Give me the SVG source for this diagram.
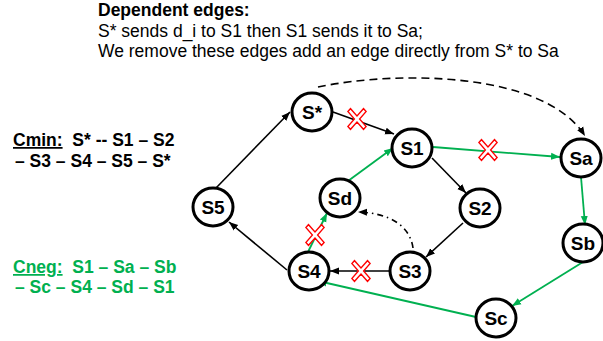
<svg xmlns="http://www.w3.org/2000/svg" width="603" height="341" viewBox="0 0 603 341">
<style>
.t{font-family:"Liberation Sans",Arial,sans-serif;font-size:17.5px;fill:#000}
.b{font-weight:bold}
.g{fill:#00B050}
.node ellipse{fill:#fff;stroke:#000;stroke-width:3}
.node text{font-family:"Liberation Sans",Arial,sans-serif;font-size:19px;font-weight:bold;text-anchor:middle;fill:#000}
.e{fill:none;stroke:#000;stroke-width:1.6}
.eg{fill:none;stroke:#00B050;stroke-width:1.8}
.x{fill:#fff;stroke:#FF0000;stroke-width:1.4}
</style>
<defs>
<marker id="ab" markerWidth="10" markerHeight="10" refX="9" refY="5" orient="auto" markerUnits="userSpaceOnUse"><path d="M0,1.5 L9,5 L0,8.5 Z" fill="#000"/></marker>
<marker id="ag" markerWidth="10" markerHeight="10" refX="9" refY="5" orient="auto" markerUnits="userSpaceOnUse"><path d="M0,1.5 L9,5 L0,8.5 Z" fill="#00B050"/></marker>
<polygon id="cross" class="x" points="-2,-12 2,-12 2,-2 12,-2 12,2 2,2 2,12 -2,12 -2,2 -12,2 -12,-2 -2,-2" transform="scale(0.92,1.05) rotate(45)"/>
</defs>

<g id="texts">
<text class="t b" x="98" y="16">Dependent edges:</text>
<text class="t" x="98" y="36.5">S* sends d_i to S1 then S1 sends it to Sa;</text>
<text class="t" x="98" y="56.5">We remove these edges add an edge directly from S* to Sa</text>
<text class="t b" x="13" y="146" xml:space="preserve"><tspan text-decoration="underline">Cmin:</tspan>  S* -- S1 – S2</text>
<text class="t b" x="15" y="166.5">– S3 – S4 – S5 – S*</text>
<text class="t b g" x="13" y="273" xml:space="preserve"><tspan text-decoration="underline">Cneg:</tspan>  S1 – Sa – Sb</text>
<text class="t b g" x="15" y="293">– Sc – S4 – Sd – S1</text>
</g>

<g id="connectors">
<line class="e" x1="216" y1="188" x2="290" y2="112" marker-end="url(#ab)"/>
<line class="e" x1="333" y1="112" x2="394" y2="134" marker-end="url(#ab)"/>
<line class="e" x1="432" y1="158" x2="466" y2="193" marker-end="url(#ab)"/>
<line class="e" x1="463" y1="223" x2="426" y2="257" marker-end="url(#ab)"/>
<line class="e" x1="390" y1="271" x2="330" y2="271" marker-end="url(#ab)"/>
<line class="e" x1="287" y1="270" x2="229" y2="222" marker-end="url(#ab)"/>
<line class="eg" x1="348" y1="181" x2="393" y2="148" marker-end="url(#ag)"/>
<line class="eg" x1="308" y1="252" x2="327" y2="213" marker-end="url(#ag)"/>
<line class="eg" x1="433" y1="147" x2="560" y2="157" marker-end="url(#ag)"/>
<line class="eg" x1="581" y1="177" x2="585" y2="225" marker-end="url(#ag)"/>
<line class="eg" x1="583" y1="262" x2="512" y2="306" marker-end="url(#ag)"/>
<line class="eg" x1="476" y1="317" x2="318" y2="281" marker-end="url(#ag)"/>
<path class="e" d="M318,87 C400,70 545,72 585,136" stroke-width="2" stroke-dasharray="8,5" marker-end="url(#ab)"/>
<path class="e" d="M413,248 C410,226 390,213 358,212" stroke-dasharray="6,4,1.5,4" marker-end="url(#ab)"/>
</g>

<g id="crosses">
<use href="#cross" x="357" y="119"/>
<use href="#cross" x="361" y="271"/>
<use href="#cross" x="315" y="235"/>
<use href="#cross" x="488" y="150"/>
</g>

<g id="Sstar" class="node"><ellipse cx="312" cy="112" rx="20" ry="19"/><text x="312" y="119">S*</text></g>
<g id="S1" class="node"><ellipse cx="412" cy="148" rx="20" ry="19"/><text x="412" y="155">S1</text></g>
<g id="S2" class="node"><ellipse cx="480" cy="208" rx="20" ry="19"/><text x="480" y="215">S2</text></g>
<g id="S3" class="node"><ellipse cx="410" cy="271" rx="20" ry="19"/><text x="410" y="278">S3</text></g>
<g id="S4" class="node"><ellipse cx="309" cy="271" rx="20" ry="19"/><text x="309" y="278">S4</text></g>
<g id="S5" class="node"><ellipse cx="213" cy="207" rx="20" ry="19"/><text x="213" y="214">S5</text></g>
<g id="Sd" class="node"><ellipse cx="340" cy="198" rx="20" ry="19"/><text x="340" y="205">Sd</text></g>
<g id="Sa" class="node"><ellipse cx="581" cy="158" rx="20" ry="19"/><text x="581" y="165">Sa</text></g>
<g id="Sb" class="node"><ellipse cx="583" cy="243" rx="20" ry="19"/><text x="583" y="250">Sb</text></g>
<g id="Sc" class="node"><ellipse cx="496" cy="318" rx="20" ry="19"/><text x="496" y="325">Sc</text></g>
</svg>
